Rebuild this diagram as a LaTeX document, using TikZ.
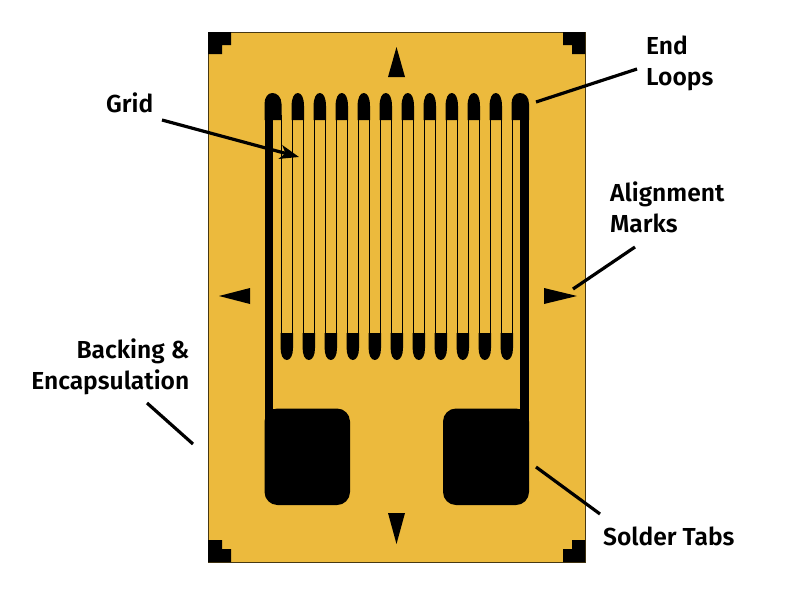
\documentclass[tikz,border=0pt]{standalone}
\usepackage{fontspec}
\setmainfont[BoldFont={Fira Sans SemiBold}]{Fira Sans}
\usetikzlibrary{arrows,arrows.meta}
\tikzset{>={Stealth[length=19pt,width=14pt,inset=5pt]}}
\definecolor{backing}{HTML}{ECBA3D}
\tikzset{lbl/.style={font=\fontsize{24.6}{31}\selectfont\bfseries,inner sep=0pt,align=left}}
\tikzset{leader/.style={draw,line width=3.2pt}}
\tikzset{solid/.style={fill=black,draw=none}}
\begin{document}
\begin{tikzpicture}[x=1pt,y=-1pt]
    \useasboundingbox (0,0) rectangle (798,600);
    \draw[fill=backing,draw=black!70!backing,line width=1pt] (208.5,32.5) rectangle (585,562);
    % corners
    \fill[solid] (208,32) -| (231,45) -| (222,54) -| cycle;
    \fill[solid] (585,32) -| (563,45) -| (572,54) -| cycle;
    \fill[solid] (208,562) -| (231,549) -| (222,540) -| cycle;
    \fill[solid] (585,562) -| (563,549) -| (572,540) -| cycle;
    % alignment marks
    \fill[solid] (396.5,47) -- (405,77) -- (388,77) -- cycle;
    \fill[solid] (396.5,544) -- (405,513) -- (388,513) -- cycle;
    \fill[solid] (219,296) -- (250,288) -- (250,304) -- cycle;
    \fill[solid] (577,296) -- (544,288) -- (544,304) -- cycle;
    % grid lines
    \foreach \k in {0,...,21}
      \draw[line width=0.9pt] ({281+11*\k},115) -- ({281+11*\k},338);
    % fingers
    \foreach \k in {0,...,9}
      \fill[solid] ({291.6+22*\k},120) -- ({291.6+22*\k},106)
        .. controls ({291.6+22*\k},98) and ({294+22*\k},93) .. ({297.8+22*\k},93)
        .. controls ({301.6+22*\k},93) and ({304+22*\k},98) .. ({304+22*\k},106)
        -- ({304+22*\k},120) -- cycle;
    \foreach \k in {0,...,10}
      \fill[solid] ({280.6+22*\k},333) -- ({280.6+22*\k},348)
        .. controls ({280.6+22*\k},355) and ({283+22*\k},360) .. ({286.8+22*\k},360)
        .. controls ({290.6+22*\k},360) and ({293+22*\k},355) .. ({293+22*\k},348)
        -- ({293+22*\k},333) -- cycle;
    % end loops and traces
    \fill[solid] (264.5,120) -- (264.5,104)
      .. controls (264.5,97) and (268,93) .. (272.5,93)
      .. controls (277,93) and (281.5,97) .. (281.5,104) -- (281.5,120) -- cycle;
    \fill[solid] (511.5,120) -- (511.5,104)
      .. controls (511.5,97) and (515,93) .. (520,93)
      .. controls (525,93) and (529,97) .. (529,104) -- (529,120) -- cycle;
    \fill[solid] (265,110) rectangle (273,420);
    \fill[solid] (520,110) rectangle (528.5,420);
    % solder tabs
    \fill[solid,rounded corners=13pt] (264.5,408.5) rectangle (350,505);
    \fill[solid,rounded corners=13pt] (443,408.5) rectangle (529,505);
    \fill[solid] (264.5,408.5) rectangle (280,425);
    \fill[solid] (513,408.5) rectangle (529,425);
    % labels
    \node[lbl,anchor=west] (grid) at (106,103) {Grid};
    \node[lbl,anchor=north west] (loops) at (646,36) {End\\Loops};
    \node[lbl,anchor=north west] (marks) at (610,182) {Alignment\\Marks};
    \node[lbl,anchor=north east,align=right] (backing) at (189.5,339) {Backing \&\\Encapsulation};
    \node[lbl,anchor=west] (tabs) at (603,536) {Solder Tabs};
    % leaders
    \coordinate (gridS) at (162,120);
    \coordinate (gridE) at (299,157);
    \coordinate (loopsS) at (637,69);
    \coordinate (loopsE) at (536,102);
    \coordinate (marksS) at (635,247);
    \coordinate (marksE) at (573,289);
    \coordinate (backingS) at (147,403);
    \coordinate (backingE) at (193,444);
    \coordinate (tabsS) at (600,514);
    \coordinate (tabsE) at (536,467);
    \draw[leader,->] (gridS) -- (gridE);
    \draw[leader] (loopsS) -- (loopsE);
    \draw[leader] (marksS) -- (marksE);
    \draw[leader] (backingS) -- (backingE);
    \draw[leader] (tabsS) -- (tabsE);
  \end{tikzpicture}
\end{document}
